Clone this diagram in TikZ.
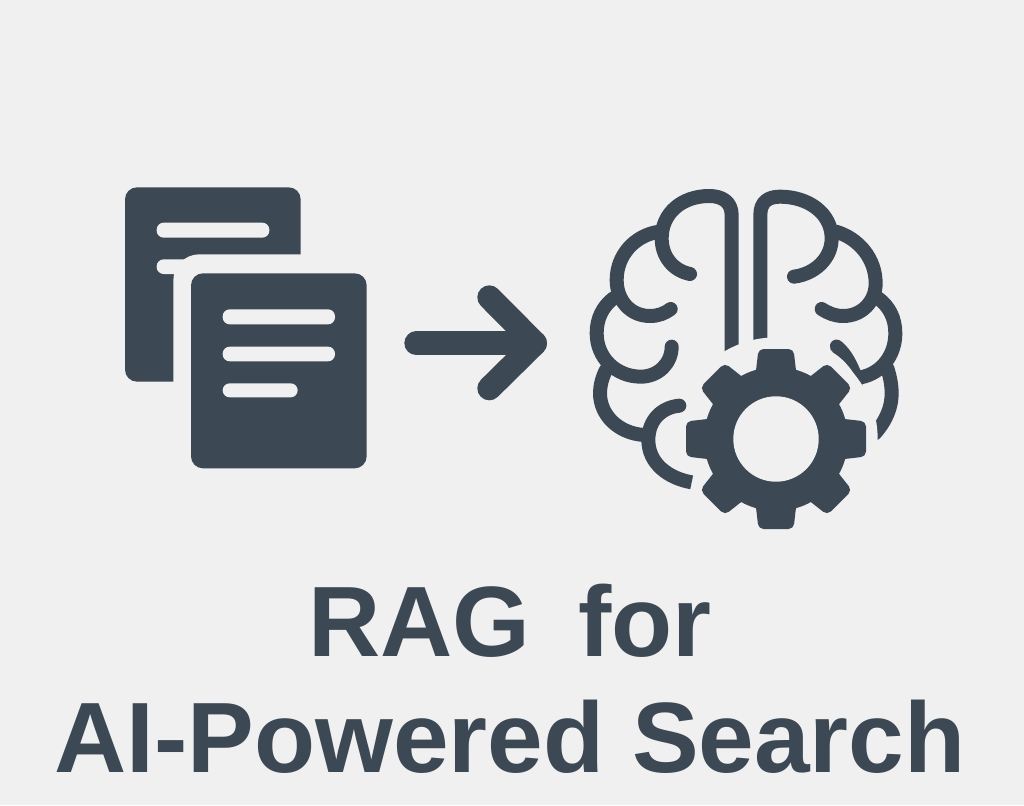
\documentclass[tikz,border=0pt]{standalone}
\usepackage{fontspec}
\setmainfont{Liberation Sans}
\definecolor{ink}{HTML}{3C4955}
\definecolor{paper}{HTML}{F0F0F0}
\tikzset{
  brainline/.style={draw=ink,line width=14pt,line cap=round,line join=round},
  brainbutt/.style={draw=ink,line width=14pt,line cap=butt},
  arrowline/.style={draw=ink,line width=24pt,line cap=round,line join=round},
  slot/.style={fill=paper,rounded corners=7pt},
  title/.style={text=ink,font=\bfseries\fontsize{100}{100}\selectfont,inner sep=0pt,anchor=base},
}
\begin{document}
\begin{tikzpicture}[x=1pt,y=-1pt]
\useasboundingbox (0,0) rectangle (1024,805);
\fill[paper] (0,0) rectangle (1024,805);
% documents
\begin{scope}[shift={(110,170)},x=0.33333pt,y=-0.33333pt]
\fill[ink,rounded corners=12pt] (45,52) rectangle (572,635);
\fill[slot] (140,158) rectangle (478,203);
\fill[slot] (140,268) rectangle (400,312);
\fill[paper,rounded corners=26pt] (190,253) rectangle (800,900);
\fill[ink,rounded corners=12pt] (243,310) rectangle (770,895);
\fill[slot] (338,418) rectangle (675,463);
\fill[slot] (338,530) rectangle (675,574);
\fill[slot] (338,640) rectangle (563,682);
% arrow
\draw[arrowline] (919,520) -- (1275,520);
\draw[arrowline] (1138,382) -- (1275,520) -- (1138,655);
\end{scope}
% brain
\begin{scope}[shift={(570,170)},x=0.33333pt,y=-0.33333pt]
\draw[brainline] (485,560) -- (485,135) .. controls (485,95) and (455,78) .. (418,78)
  .. controls (335,78) and (275,130) .. (275,205) .. controls (275,260) and (310,302) .. (360,312);
\draw[brainline] (571,540) -- (571,135) .. controls (571,95) and (595,80) .. (630,80)
  .. controls (715,80) and (785,130) .. (785,205) .. controls (785,265) and (735,312) .. (672,320);
\draw[brainline] (268,185) .. controls (195,195) and (140,255) .. (140,330)
  .. controls (140,390) and (180,438) .. (240,438) .. controls (265,438) and (285,430) .. (302,417);
\draw[brainline] (798,185) .. controls (865,205) and (917,265) .. (917,340)
  .. controls (917,395) and (875,438) .. (820,438) .. controls (795,438) and (775,430) .. (755,417);
\draw[brainline] (130,385) .. controls (98,410) and (80,445) .. (80,490)
  .. controls (80,565) and (140,620) .. (212,620) .. controls (265,620) and (305,580) .. (305,530);
\draw[brainline] (925,385) .. controls (958,410) and (976,445) .. (976,490)
  .. controls (976,555) and (935,610) .. (872,622);
\draw[brainline] (108,600) .. controls (95,625) and (90,650) .. (90,670)
  .. controls (90,735) and (145,790) .. (222,795);
\draw[brainline] (952,595) .. controls (960,620) and (965,645) .. (965,670)
  .. controls (965,710) and (950,750) .. (915,790);
\fill[ink] (780,525) .. controls (785,505) and (805,505) .. (815,515)
  .. controls (845,540) and (865,580) .. (880,625) -- (875,660) .. controls (855,605) and (825,570) .. (790,548)
  .. controls (782,542) and (778,535) .. (780,525) -- cycle;
\fill[paper] (618,807) circle[radius=305];
\draw[brainbutt] (365,937) .. controls (295,925) and (235,880) .. (235,810)
  .. controls (235,750) and (275,712) .. (328,707);
\fill[ink] (328,707) circle[radius=21];
\end{scope}
% gear
\begin{scope}[shift={(776,439)}]
\foreach \a in {0,45,...,315}{
  \fill[ink,rounded corners=5pt,rotate=\a] (-21,-60) -- (-17.5,-90) -- (17.5,-90) -- (21,-60) -- cycle;
}
\fill[ink] (0,0) circle[radius=72];
\fill[paper] (0,0) circle[radius=42.7];
\end{scope}
\node[title] (t1) at (510,656) {RAG\hspace{0.2em} for};
\node[title] (t2) at (510,772) {AI-Powered Search};
\end{tikzpicture}
\end{document}
